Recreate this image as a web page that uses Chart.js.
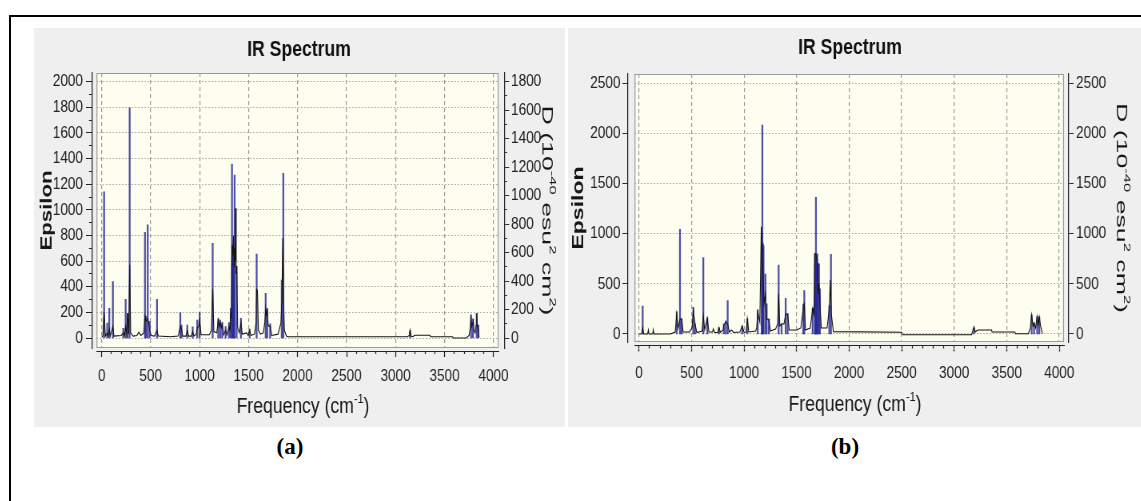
<!DOCTYPE html>
<html><head><meta charset="utf-8">
<script src="https://cdn.jsdelivr.net/npm/chart.js@4.4.1/dist/chart.umd.min.js"></script>
<style>
html,body{margin:0;padding:0;background:#fff;width:1141px;height:501px;overflow:hidden;position:relative;}
#frame{position:absolute;left:9px;top:15px;width:1200px;height:600px;border-left:2px solid #000;border-top:2px solid #000;}
.panel{position:absolute;background:#efefef;}
.wrap{position:absolute;transform-origin:0 0;}
.cap{position:absolute;font:bold 23px 'Liberation Serif','Times New Roman',serif;color:#000;transform:translate(-50%,-50%);white-space:nowrap;}
</style></head><body>
<div id="frame"></div>
<div class="panel" style="left:34px;top:28px;width:531px;height:399px"></div>
<div class="panel" style="left:568px;top:28px;width:573px;height:399px"></div>
<div class="wrap" id="wa"><canvas id="ca"></canvas></div>
<div class="wrap" id="wb"><canvas id="cb"></canvas></div>
<div class="cap" style="left:290px;top:447px">(a)</div>
<div class="cap" style="left:845px;top:447px">(b)</div>
<script>
// ---------- data ----------
const chartTitle = 'IR Spectrum';
const freqTicks = [0, 500, 1000, 1500, 2000, 2500, 3000, 3500, 4000];
const epsTicksA = [0, 200, 400, 600, 800, 1000, 1200, 1400, 1600, 1800, 2000];
const dTicksA = [0, 200, 400, 600, 800, 1000, 1200, 1400, 1600, 1800];
const epsTicksB = [0, 500, 1000, 1500, 2000, 2500];
const dTicksB = [0, 500, 1000, 1500, 2000, 2500];

// (a) broadened spectrum: [frequency, epsilon]
const curveA = [[0,5],[12,15],[25,200],[38,15],[57,40],[66,15],[78,70],[88,15],[115,90],[125,15],[200,20],[221,40],[232,15],[245,90],[255,30],[265,190],[276,30],[286,570],[296,40],[320,15],[360,20],[380,45],[400,20],[430,40],[442,170],[452,130],[470,150],[480,120],[490,60],[505,20],[540,15],[565,60],[578,15],[700,10],[780,15],[803,90],[815,70],[828,15],[860,15],[874,60],[888,15],[915,15],[929,50],[942,15],[965,30],[976,80],[990,90],[1000,140],[1015,25],[1100,25],[1120,60],[1133,380],[1145,50],[1175,40],[1190,140],[1200,90],[1210,120],[1222,80],[1230,110],[1245,25],[1265,60],[1280,25],[1300,90],[1310,60],[1317,200],[1323,150],[1330,720],[1337,650],[1345,800],[1352,560],[1357,700],[1363,600],[1368,1012],[1373,500],[1378,560],[1388,80],[1405,40],[1422,120],[1435,30],[1480,40],[1495,20],[1510,60],[1525,20],[1560,30],[1576,120],[1582,380],[1590,370],[1600,60],[1620,30],[1650,40],[1665,120],[1674,230],[1682,180],[1690,210],[1700,100],[1710,90],[1720,90],[1735,20],[1800,30],[1830,120],[1840,300],[1848,778],[1856,300],[1865,60],[1885,15],[1900,10],[3120,10],[3140,20],[3148,60],[3156,15],[3175,10],[3185,15],[3195,21],[3350,21],[3358,10],[3580,10],[3590,0],[3720,0],[3750,20],[3762,80],[3770,150],[3778,90],[3785,110],[3792,130],[3800,60],[3812,40],[3822,100],[3828,190],[3836,80],[3845,60],[3852,5]];
// (a) stick spectrum: [frequency, D]
const sticksA = [[25,1026],[57,104],[78,209],[115,396],[221,68],[245,272],[265,174],[286,1617],[442,743],[452,153],[470,794],[490,117],[565,272],[803,178],[815,90],[874,91],[929,79],[976,126],[1000,180],[1133,665],[1190,135],[1210,126],[1230,108],[1265,81],[1300,108],[1317,209],[1330,1222],[1336,650],[1342,640],[1350,600],[1357,1145],[1378,504],[1422,139],[1510,63],[1582,590],[1674,314],[1690,207],[1720,99],[1838,407],[1854,1157],[3148,50],[3770,162],[3790,135],[3828,174],[3845,90]];

// (b) broadened spectrum: [frequency, epsilon]
const curveB = [[0,0],[25,0],[35,60],[45,0],[82,0],[89,40],[95,0],[130,0],[136,40],[142,0],[300,0],[345,20],[359,200],[372,60],[390,150],[406,150],[420,20],[480,20],[505,60],[517,230],[533,100],[550,15],[600,30],[612,180],[625,40],[650,160],[665,20],[700,20],[707,50],[720,15],[750,15],[761,63],[775,15],[800,40],[808,90],[827,120],[844,100],[860,20],[881,40],[900,15],[960,20],[983,80],[1000,15],[1020,20],[1031,150],[1045,20],[1110,30],[1120,60],[1130,220],[1150,120],[1164,1070],[1172,700],[1180,600],[1190,300],[1203,400],[1215,150],[1236,140],[1250,30],[1300,50],[1320,100],[1329,400],[1340,80],[1357,100],[1380,100],[1396,200],[1405,200],[1415,200],[1430,40],[1500,40],[1540,60],[1564,260],[1573,300],[1585,40],[1630,60],[1653,256],[1665,200],[1674,800],[1684,800],[1697,700],[1705,400],[1713,500],[1722,300],[1735,60],[1790,60],[1811,250],[1820,538],[1830,200],[1850,23],[2500,17],[2510,-8],[3166,-8],[3188,73],[3200,20],[3210,30],[3229,40],[3356,40],[3360,20],[3578,20],[3582,3],[3705,3],[3725,60],[3737,190],[3750,80],[3760,110],[3775,60],[3790,173],[3800,90],[3810,170],[3822,80],[3840,3]];
// (b) stick spectrum: [frequency, D]
const sticksB = [[35,279],[359,222],[390,1044],[406,150],[517,266],[533,100],[612,761],[650,160],[761,63],[808,100],[827,130],[844,332],[983,80],[1031,150],[1130,240],[1168,1000],[1174,2084],[1180,900],[1185,880],[1203,598],[1215,300],[1236,150],[1329,688],[1357,100],[1396,356],[1415,200],[1564,299],[1573,432],[1653,256],[1674,800],[1678,780],[1684,1363],[1690,750],[1697,800],[1704,700],[1713,700],[1722,450],[1811,280],[1827,795],[3188,60],[3737,190],[3760,110],[3790,173],[3810,170]];

const epsLabel = [{t:'Epsilon'}];
const dLabel = [{t:'D (10'},{t:'-40',sup:true},{t:' esu'},{t:'2',sup:true},{t:' cm'},{t:'2',sup:true},{t:')'}];
const freqLabel = [{t:'Frequency (cm'},{t:'-1',sup:true},{t:')'}];

// ---------- layout (page pixels) ----------
const S = 0.8; // horizontal condensation of the figure
const FONT = "'Liberation Sans', Arial, Helvetica, sans-serif";

const layoutA = {
  L:34, T:28, W:530, H:399,
  plot:{l:96.5, r:498.5, t:73, b:348},
  yl:{axis:92, minor:89, major:86, label:83},
  yr:{axis:504.5, minor:507, major:509, label:511},
  xb:{axis:351, minor:354, major:357, label:376},
  xr:[-53, 4051], ylr:[-78, 2068], yrr:[-70.2, 1861.1],
  titleY:50, eps:{x:47, len:80}, d:{x:547, len:210}, freq:{x:303, y:407}
};
const layoutB = {
  L:568, T:28, W:564, H:399,
  plot:{l:634.5, r:1064, t:74, b:342},
  yl:{axis:627.5, minor:625, major:622.5, label:620.5},
  yr:{axis:1068.5, minor:1071, major:1073.5, label:1076},
  xb:{axis:345.5, minor:348.5, major:351.5, label:373},
  xr:[-43, 4045], ylr:[-80, 2593], yrr:[-80, 2593],
  titleY:48, eps:{x:579, len:83}, d:{x:1121, len:210}, freq:{x:855, y:405}
};

function stepList(a, b, step){ const out=[]; for(let v=a; v<=b+1e-9; v+=step) out.push(v); return out; }

function makeScales(g, t){
  const hx = v => v / S;
  const setTicks = list => s => { s.ticks = list.map(v => ({value:v})); };
  const tickFont = {family:FONT, size:17};
  const half = 17 * 1.2 / 2;
  const dark = '#222';
  const X = {type:'linear', min:g.xr[0], max:g.xr[1], offset:false};
  const YL = {type:'linear', min:g.ylr[0], max:g.ylr[1], offset:false, beginAtZero:false};
  const YR = {type:'linear', min:g.yrr[0], max:g.yrr[1], offset:false, beginAtZero:false};
  const lbl = v => String(v);
  return {
    x:{...X, position:'bottom', weight:0,
      grid:{display:true, offset:false, drawOnChartArea:true, drawTicks:false, color:'#9c9c9c', lineWidth:1.2},
      border:{display:false, dash:[4,3]}, ticks:{display:false},
      afterBuildTicks:setTicks(t.x), afterFit:s=>{ s.height = g.xb.axis - g.plot.b; }},
    xMinor:{...X, position:'bottom', weight:1,
      grid:{display:true, offset:false, drawOnChartArea:false, drawTicks:true, tickLength:g.xb.minor-g.xb.axis, tickColor:dark, tickWidth:1.25},
      border:{display:true, color:dark, width:1}, ticks:{display:false},
      afterBuildTicks:setTicks(t.xMinor), afterFit:s=>{ s.height = g.xb.minor - g.xb.axis; }},
    xMajor:{...X, position:'bottom', weight:2,
      grid:{display:true, offset:false, drawOnChartArea:false, drawTicks:true, tickLength:g.xb.major-g.xb.minor, tickColor:dark, tickWidth:1.25},
      border:{display:false},
      ticks:{display:true, autoSkip:false, maxRotation:0, minRotation:0, padding:g.xb.label-half-g.xb.major, font:tickFont, color:dark, callback:lbl},
      afterBuildTicks:setTicks(t.x), afterFit:s=>{ s.height = g.T + g.H - g.xb.minor; }},
    y:{...YL, position:'left', weight:0,
      grid:{display:true, offset:false, drawOnChartArea:true, drawTicks:false, color:'#b0b0b0', lineWidth:1},
      border:{display:false, dash:[2,2]}, ticks:{display:false},
      afterBuildTicks:setTicks(t.yl), afterFit:s=>{ s.width = hx(g.plot.l - g.yl.axis); }},
    yMinor:{...YL, position:'left', weight:1,
      grid:{display:true, drawOnChartArea:false, drawTicks:true, tickLength:hx(g.yl.axis-g.yl.minor), tickColor:dark, tickWidth:1},
      border:{display:true, color:dark, width:1.25}, ticks:{display:false},
      afterBuildTicks:setTicks(t.ylMinor), afterFit:s=>{ s.width = hx(g.yl.axis - g.yl.minor); }},
    yMajor:{...YL, position:'left', weight:2,
      grid:{display:true, drawOnChartArea:false, drawTicks:true, tickLength:hx(g.yl.minor-g.yl.major), tickColor:dark, tickWidth:1},
      border:{display:false},
      ticks:{display:true, autoSkip:false, padding:hx(g.yl.major-g.yl.label), font:tickFont, color:dark, callback:lbl},
      afterBuildTicks:setTicks(t.yl), afterFit:s=>{ s.width = hx(g.yl.minor - g.L); }},
    yD:{...YR, position:'right', weight:0,
      grid:{display:false}, border:{display:false}, ticks:{display:false},
      afterBuildTicks:setTicks(t.yr), afterFit:s=>{ s.width = hx(g.yr.axis - g.plot.r); }},
    yDMinor:{...YR, position:'right', weight:1,
      grid:{display:true, drawOnChartArea:false, drawTicks:true, tickLength:hx(g.yr.minor-g.yr.axis), tickColor:dark, tickWidth:1},
      border:{display:true, color:dark, width:1.25}, ticks:{display:false},
      afterBuildTicks:setTicks(t.yrMinor), afterFit:s=>{ s.width = hx(g.yr.minor - g.yr.axis); }},
    yDMajor:{...YR, position:'right', weight:2,
      grid:{display:true, drawOnChartArea:false, drawTicks:true, tickLength:hx(g.yr.major-g.yr.minor), tickColor:dark, tickWidth:1},
      border:{display:false},
      ticks:{display:true, autoSkip:false, padding:hx(g.yr.label-g.yr.major), font:tickFont, color:dark, callback:lbl},
      afterBuildTicks:setTicks(t.yr), afterFit:s=>{ s.width = hx(g.L + g.W - g.yr.minor); }}
  };
}

const plotArea = {
  id:'plotArea',
  beforeDraw(chart){
    const {ctx, chartArea:a} = chart;
    ctx.save(); ctx.fillStyle = '#fdfdf0'; ctx.fillRect(a.left, a.top, a.right-a.left, a.bottom-a.top); ctx.restore();
  },
  afterDraw(chart){
    const {ctx, chartArea:a} = chart;
    ctx.save(); ctx.strokeStyle = '#9a9a9a';
    ctx.lineWidth = 1;
    ctx.beginPath(); ctx.moveTo(a.left, a.top+0.5); ctx.lineTo(a.right, a.top+0.5);
    ctx.moveTo(a.left, a.bottom-0.5); ctx.lineTo(a.right, a.bottom-0.5); ctx.stroke();
    ctx.lineWidth = 1.25;
    ctx.beginPath(); ctx.moveTo(a.left+0.6, a.top); ctx.lineTo(a.left+0.6, a.bottom);
    ctx.moveTo(a.right-0.6, a.top); ctx.lineTo(a.right-0.6, a.bottom); ctx.stroke();
    ctx.restore();
  }
};

function drawRich(ctx, it){
  ctx.save();
  ctx.fillStyle = '#161616';
  ctx.textBaseline = 'middle';
  ctx.textAlign = 'left';
  const base = it.size, sup = base * 0.62;
  const fnt = sz => `${it.weight || 'normal'} ${sz}px ${FONT}`;
  let w = 0;
  for (const p of it.parts){ ctx.font = fnt(p.sup ? sup : base); w += ctx.measureText(p.t).width; }
  ctx.translate(it.x, it.y);
  ctx.rotate(it.rot || 0);
  ctx.scale(it.len ? it.len / w : 1, 1);
  let cx = -w / 2;
  for (const p of it.parts){
    ctx.font = fnt(p.sup ? sup : base);
    ctx.fillText(p.t, cx, p.sup ? -base * 0.36 : 0);
    cx += ctx.measureText(p.t).width;
  }
  ctx.restore();
}
const richText = {
  id:'richText',
  afterDraw(chart, args, opts){ (opts.items || []).forEach(it => drawRich(chart.ctx, it)); }
};

function build(canvasId, wrapId, g, curve, sticks, t){
  const cw = Math.round(g.W / S);
  const wrap = document.getElementById(wrapId);
  wrap.style.left = g.L + 'px'; wrap.style.top = g.T + 'px';
  wrap.style.width = cw + 'px'; wrap.style.height = g.H + 'px';
  wrap.style.transform = `scaleX(${g.W / cw})`;
  const cv = document.getElementById(canvasId);
  cv.width = cw; cv.height = g.H;
  const lh = 22 * 1.2;
  const padTop = g.titleY - g.T - lh / 2;
  const padBottom = (g.plot.t - g.T) - padTop - lh;
  const midY = (g.plot.t + g.plot.b) / 2 - g.T;
  const hx = v => (v - g.L) / (g.W / cw);
  new Chart(cv, {
    type:'line',
    data:{datasets:[
      {type:'line', data:curve.map(([x,y])=>({x,y})), xAxisID:'x', yAxisID:'y',
       borderColor:'#141414', borderWidth:1.1, pointRadius:0, tension:0, fill:false, order:0},
      {type:'bar', data:sticks.map(([x,y])=>({x,y})), xAxisID:'x', yAxisID:'yD',
       backgroundColor:'rgba(40,40,150,0.82)', borderWidth:0, barThickness:1.6, grouped:false, order:1}
    ]},
    options:{
      responsive:false, animation:false, devicePixelRatio:1,
      layout:{padding:0},
      scales:makeScales(g, t),
      plugins:{
        legend:{display:false}, tooltip:{enabled:false},
        title:{display:true, text:chartTitle, color:'#111', font:{family:FONT, size:22, weight:'bold'}, padding:{top:padTop, bottom:padBottom}},
        richText:{items:[
          {parts:epsLabel, x:hx(g.eps.x), y:midY, rot:-Math.PI/2, size:20, weight:'bold', len:g.eps.len},
          {parts:dLabel, x:hx(g.d.x), y:midY, rot:Math.PI/2, size:19, len:g.d.len},
          {parts:freqLabel, x:hx(g.freq.x), y:g.freq.y - g.T, rot:0, size:22}
        ]}
      }
    },
    plugins:[plotArea, richText]
  });
}

build('ca', 'wa', layoutA, curveA, sticksA, {
  x:freqTicks, xMinor:stepList(0, 4000, 100),
  yl:epsTicksA, ylMinor:stepList(0, 2000, 100),
  yr:dTicksA, yrMinor:stepList(0, 1800, 100)
});
build('cb', 'wb', layoutB, curveB, sticksB, {
  x:freqTicks, xMinor:stepList(0, 4000, 100),
  yl:epsTicksB, ylMinor:epsTicksB,
  yr:dTicksB, yrMinor:dTicksB
});
</script>
</body></html>
